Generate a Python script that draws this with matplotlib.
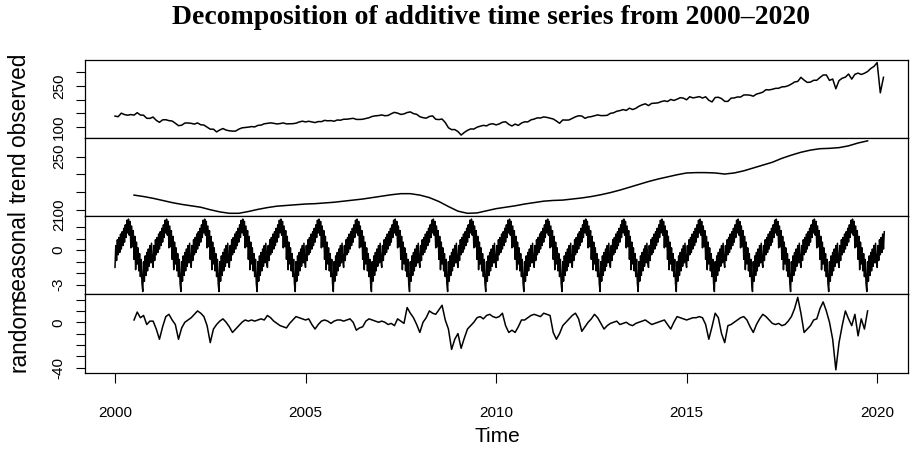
import matplotlib
matplotlib.use("Agg")
import matplotlib.pyplot as plt
import numpy as np
from matplotlib import font_manager

# ---------------- data ----------------
# observed: monthly values, Jan 2000 .. Mar 2020
obs_2000 = [139.6, 137.4, 150.4, 145.1, 142.8, 145.3, 143.2, 152.0, 143.6, 142.8, 131.5, 131.2]
obs_2001 = [136.0, 124.1, 116.7, 125.8, 126.3, 122.9, 121.5, 113.4, 104.4, 106.1, 114.1, 114.3]
obs_2002 = [113.0, 110.2, 114.5, 107.7, 106.7, 98.9, 91.5, 91.6, 81.5, 88.7, 93.9, 88.2]
obs_2003 = [85.7, 84.4, 84.7, 91.7, 96.4, 97.6, 99.0, 101.1, 99.9, 105.5, 106.5, 111.3]
obs_2004 = [113.1, 114.7, 113.1, 110.7, 112.2, 114.5, 110.9, 111.4, 111.8, 113.5, 118.0, 120.9]
obs_2005 = [118.2, 120.6, 118.0, 115.8, 119.5, 119.2, 123.9, 122.2, 123.0, 120.7, 125.3, 124.5]
obs_2006 = [128.0, 128.2, 129.8, 131.5, 127.5, 127.3, 128.0, 130.9, 133.6, 138.4, 140.5, 141.6]
obs_2007 = [143.8, 140.9, 142.0, 148.3, 153.3, 150.4, 145.7, 147.6, 152.6, 155.0, 148.7, 146.2]
obs_2008 = [137.4, 133.8, 131.9, 138.3, 140.4, 128.0, 126.8, 128.8, 116.0, 96.8, 89.9, 90.2]
obs_2009 = [82.8, 70.0, 79.5, 87.3, 92.5, 92.0, 98.8, 102.5, 105.6, 103.6, 109.9, 111.4]
obs_2010 = [107.4, 110.7, 117.0, 118.8, 109.4, 103.2, 110.3, 105.3, 114.1, 118.5, 118.4, 125.8]
obs_2011 = [128.7, 133.2, 132.6, 136.6, 134.8, 132.0, 129.0, 121.6, 113.2, 125.5, 124.9, 125.5]
obs_2012 = [131.3, 137.0, 140.8, 139.9, 131.5, 136.1, 137.7, 140.9, 144.0, 141.4, 141.5, 142.4]
obs_2013 = [149.7, 151.6, 157.3, 159.7, 163.5, 160.4, 168.7, 163.7, 168.0, 175.8, 181.0, 184.7]
obs_2014 = [178.2, 186.3, 187.0, 188.3, 192.7, 195.7, 193.1, 200.7, 197.0, 201.7, 207.2, 205.5]
obs_2015 = [199.5, 210.7, 206.4, 208.5, 211.1, 205.9, 210.5, 197.7, 191.6, 207.9, 208.7, 203.9]
obs_2016 = [193.7, 193.6, 205.5, 206.3, 209.8, 209.5, 217.1, 217.4, 216.3, 212.6, 220.4, 223.5]
obs_2017 = [227.5, 236.5, 235.7, 238.1, 241.4, 241.8, 246.8, 247.5, 251.2, 257.2, 264.8, 266.9]
obs_2018 = [281.9, 271.7, 263.2, 264.5, 270.9, 271.3, 281.3, 290.3, 290.7, 270.6, 275.7, 240.0]
obs_2019 = [270.0, 278.7, 282.5, 294.0, 275.3, 293.0, 297.4, 292.5, 296.8, 303.3, 314.3, 321.9]
obs_2020 = [336.0, 225.0, 282.0]
obs_start, obs_step = 2000.0, 1 / 12

# trend: quarterly values, 2000.50 .. 2019.75
trend_vals = [142, 138,
              133, 127, 121, 116,
              112, 108, 101, 95,
              91, 91, 96, 102,
              107, 111, 113, 115,
              117, 118, 120, 122,
              125, 128, 131, 135,
              139, 143, 146, 146,
              142, 135, 124, 110,
              97, 91, 92, 98,
              104, 108, 112, 117,
              121, 125, 127, 128,
              131, 134, 138, 143,
              149, 156, 164, 172,
              180, 187, 193, 199,
              204, 205, 205, 204,
              201, 204, 210, 218,
              226, 234, 245, 254,
              262, 268, 272, 273,
              275, 280, 288, 294]
trend_start, trend_step = 2000.5, 0.25

# seasonal: one yearly cycle (48 readings, alternating upper/lower edge of the band)
seasonal_cycle = [-1.5, 0.4, -0.9, 0.9, -0.4, 1.1, -0.2, 1.4, 0.1, 1.6, 0.4, 1.9,
                  0.7, 2.2, 1.1, 2.6, 1.5, 2.7, 1.3, 2.5, 0.2, 2.1, 0.3, 1.7,
                  -0.8, 1.2, -1.7, 0.7, -1.2, 0.2, -1.8, -0.3, -2.3, -0.8, -2.9, -3.6,
                  -1.0, -2.7, -0.5, -2.2, -0.2, -1.8, 0.1, -1.4, 0.4, -1.1, 0.6, -1.0]
seasonal_years = 20
seasonal_extra = 10
seasonal_start = 2000.0

# random: monthly values, 2000.50 .. 2019.75
rnd_2000 = [2, 9, 4, 6, -2, 1]
rnd_2001 = [1, -6, -15, -4, 5, 7, 2, -2, -15, -5, 0, 2]
rnd_2002 = [4, 7, 10, 8, 5, -3, -18, -6, -2, 1, 3, 0]
rnd_2003 = [-4, -9, -6, -3, 0, 2, 1, 2, 1, 2, 3, 2]
rnd_2004 = [6, 4, 1, -1, -3, -4, -5, -1, 2, 5, 4, 3]
rnd_2005 = [2, 3, -2, -6, -2, 1, 2, 1, -1, 1, 2, 2]
rnd_2006 = [1, 2, 3, 0, -7, -5, -4, 1, 3, 2, 1, 0]
rnd_2007 = [1, 0, -2, -1, -3, 3, 1, -1, 13, 8, 4, -2]
rnd_2008 = [-9, 0, 4, 10, 8, 7, 11, 15, 2, -6, -24, -15]
rnd_2009 = [-10, -23, -14, -6, -3, 0, 4, 5, 3, 6, 7, 5]
rnd_2010 = [4, 5, 8, -3, -9, -7, -9, -4, 2, 2, 4, 6]
rnd_2011 = [7, 6, 5, 8, 7, 6, -9, -15, -10, -3, 0, 3]
rnd_2012 = [6, 8, 3, -8, -4, 0, 3, 7, 4, -1, -6, -3]
rnd_2013 = [-1, 0, 1, -2, -1, 0, -2, -3, -1, 0, 1, 2]
rnd_2014 = [0, -2, -1, 0, 1, 2, -2, -6, 0, 5, 4, 3]
rnd_2015 = [2, 3, 4, 4, 5, 4, -2, -15, -4, 8, 4, -10]
rnd_2016 = [-18, -3, -2, 0, 2, 4, 5, 2, -4, -9, -2, 3]
rnd_2017 = [7, 5, 2, -1, -2, -1, -3, -2, 1, 5, 12, 22]
rnd_2018 = [8, -9, -6, -3, 2, 3, 12, 18, 10, 0, -15, -42]
rnd_2019 = [-18, -3, 10, 3, -3, 7, -12, 3, -6, 10]
rnd_start, rnd_step = 2000.5, 1 / 12

panel_names = ["observed", "trend", "seasonal", "random"]
yticks = [[100, 150, 200, 250, 300], [100, 150, 200, 250],
          [-3, -2, -1, 0, 1, 2], [-40, -30, -20, -10, 0, 10, 20]]
ylabeled = [[100, 250], [100, 250], [-3, 0, 2], [-40, 0]]
xticks = [2000, 2005, 2010, 2015, 2020]
title = "Decomposition of additive time series from 2000\u20132020"

# ---------------- assemble series ----------------
observed = np.array(obs_2000 + obs_2001 + obs_2002 + obs_2003 + obs_2004 + obs_2005 +
                    obs_2006 + obs_2007 + obs_2008 + obs_2009 + obs_2010 + obs_2011 +
                    obs_2012 + obs_2013 + obs_2014 + obs_2015 + obs_2016 + obs_2017 +
                    obs_2018 + obs_2019 + obs_2020, dtype=float)
t_obs = obs_start + obs_step * np.arange(len(observed))

trend = np.array(trend_vals, dtype=float)
t_trend = trend_start + trend_step * np.arange(len(trend))

seasonal = np.concatenate([np.tile(seasonal_cycle, seasonal_years),
                           seasonal_cycle[:seasonal_extra]])
t_seas = seasonal_start + np.arange(len(seasonal)) / len(seasonal_cycle)

random_c = np.array(rnd_2000 + rnd_2001 + rnd_2002 + rnd_2003 + rnd_2004 + rnd_2005 +
                    rnd_2006 + rnd_2007 + rnd_2008 + rnd_2009 + rnd_2010 + rnd_2011 +
                    rnd_2012 + rnd_2013 + rnd_2014 + rnd_2015 + rnd_2016 + rnd_2017 +
                    rnd_2018 + rnd_2019, dtype=float)
t_rnd = rnd_start + rnd_step * np.arange(len(random_c))

series = [(t_obs, observed), (t_trend, trend), (t_seas, seasonal), (t_rnd, random_c)]

# ---------------- figure ----------------
names = {f.name for f in font_manager.fontManager.ttflist}
sans = "Liberation Sans" if "Liberation Sans" in names else "DejaVu Sans"
narrow = "Liberation Sans Narrow" if "Liberation Sans Narrow" in names else sans
serif = "Liberation Serif" if "Liberation Serif" in names else "DejaVu Serif"

W, H = 918, 453
fig = plt.figure(figsize=(W / 100, H / 100), dpi=100)
left_px, right_px = 84.5, 908.0
edges = np.linspace(59.7, 372.7, 5)

for i, ((t, v), name) in enumerate(zip(series, panel_names)):
    top, bot = edges[i], edges[i + 1]
    ax = fig.add_axes([left_px / W, 1 - bot / H, (right_px - left_px) / W, (bot - top) / H])
    ax.plot(t, v, color="black", lw=1.1)
    ax.set_xlim(1999.2, 2020.81)
    lo, hi = np.min(v), np.max(v)
    pad = 0.04 * (hi - lo)
    ax.set_ylim(lo - pad, hi + pad)
    ax.set_yticks(yticks[i])
    ax.set_yticklabels([str(k) if k in ylabeled[i] else "" for k in yticks[i]])
    ax.tick_params(axis="y", length=6.5, width=0.8, pad=7, labelsize=11,
                   labelrotation=90, colors="black")
    for lbl in ax.get_yticklabels():
        lbl.set_va("center")
        lbl.set_family(narrow)
    for s in ax.spines.values():
        s.set_linewidth(0.9)
    if i < 3:
        ax.tick_params(axis="x", bottom=False, labelbottom=False)
    else:
        ax.set_xticks(xticks)
        ax.set_xticklabels([str(x) for x in xticks])
        ax.tick_params(axis="x", length=7, width=0.8, pad=17, labelsize=11)
        for lbl in ax.get_xticklabels():
            lbl.set_family(sans)
    fig.text(19 / W, 1 - (top + bot) / 2 / H, name, rotation=90, ha="center",
             va="center", fontsize=16.3, family=sans)

fig.text(497 / W, 1 - 437 / H, "Time", ha="center", va="center", fontsize=15, family=sans)
fig.text(491 / W, 1 - 18 / H, title, ha="center", va="center", fontsize=20,
         fontweight="bold", family=serif)

fig.savefig("out.png", dpi=100)
